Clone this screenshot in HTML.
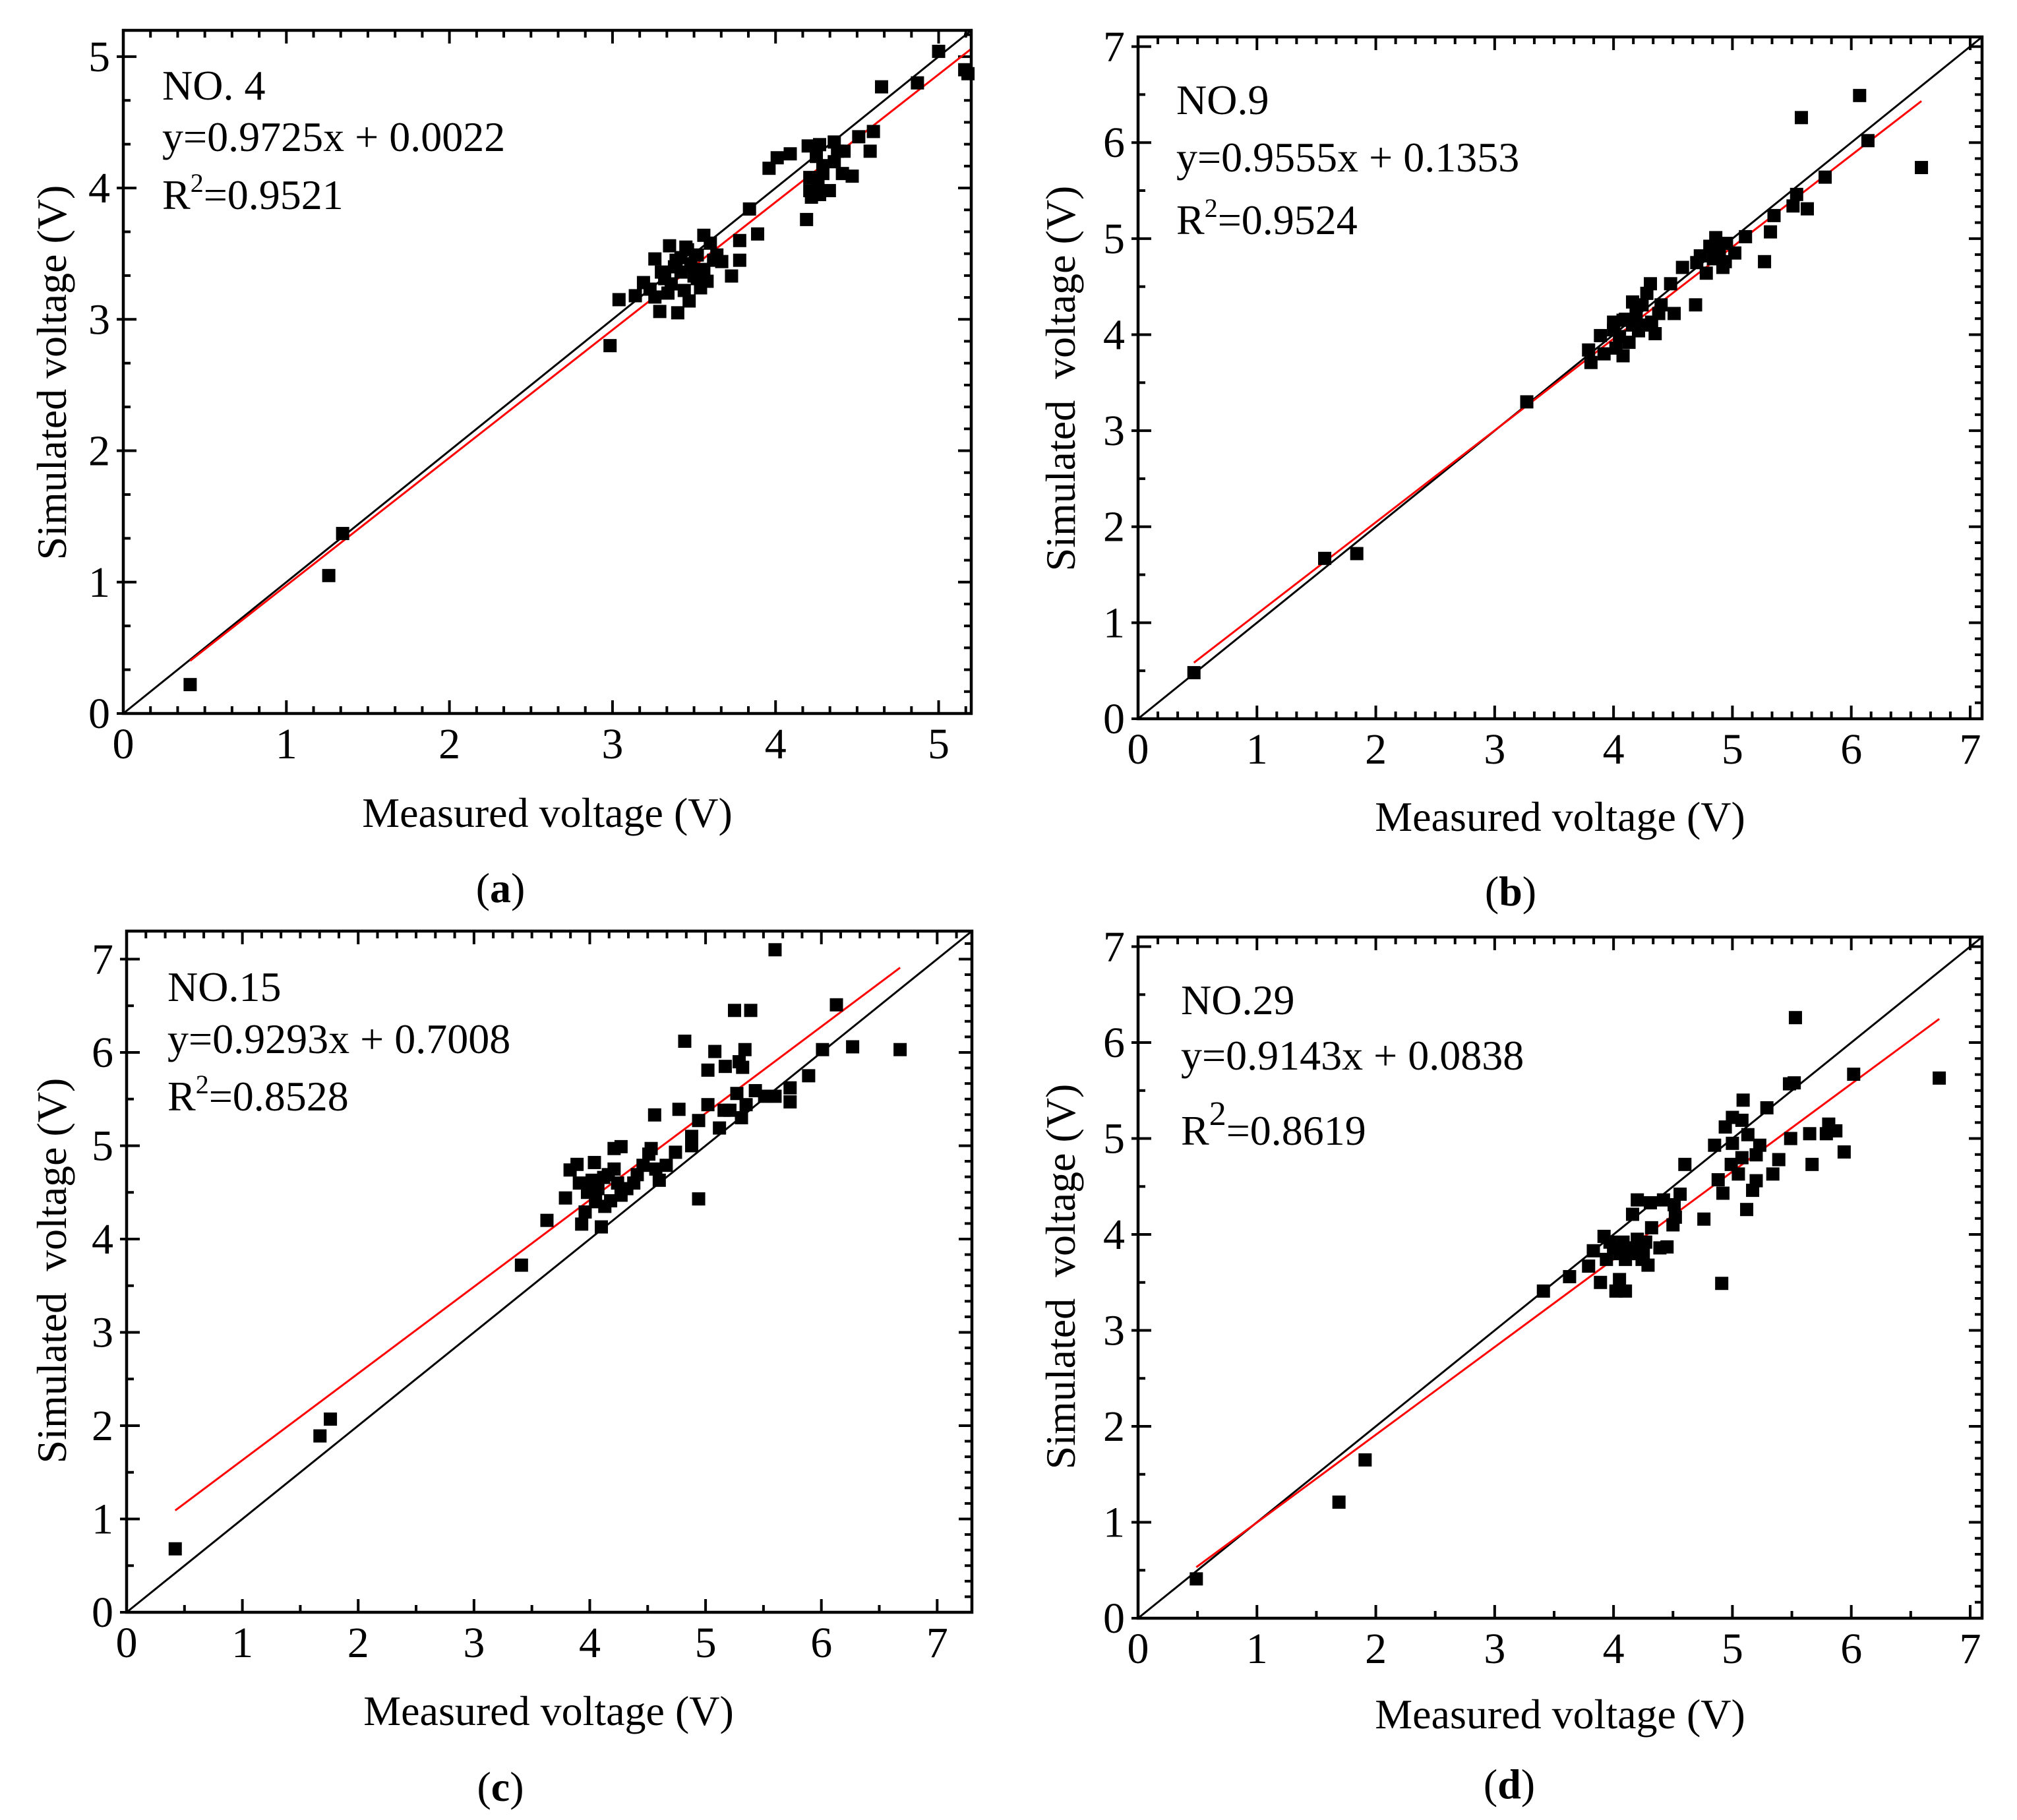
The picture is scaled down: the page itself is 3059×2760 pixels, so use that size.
<!DOCTYPE html>
<html><head><meta charset="utf-8"><style>
html,body{margin:0;padding:0;background:#fff;}
svg{display:block;}
svg text{font-family:"Liberation Serif","DejaVu Serif",serif;fill:#000;}
</style></head><body>
<svg id="fig" width="3059" height="2760" viewBox="0 0 3059 2760" xmlns="http://www.w3.org/2000/svg" font-family="Liberation Serif, DejaVu Serif, serif"></svg>
<script>
// ---- Data (a) NO. 4 ----
const measuredA = [0.41,1.26,1.345,2.985,3.04,3.14,3.19,3.26,3.29,3.40,3.35,3.47,3.56,3.60,3.84,3.89,3.78,3.78,3.73,3.67,3.54,
 3.23,3.26,3.32,3.38,3.42,3.48,3.52,3.46,3.42,3.36,3.50,3.56,3.58,3.62,3.64,3.44,3.34,3.30,3.45,3.52,3.39,
 3.96,4.01,4.09,4.19,4.20,4.27,4.21,4.22,4.26,4.33,4.27,4.21,4.29,4.36,4.38,4.36,4.42,4.47,4.41,4.25,4.29,4.51,4.60,4.58,4.65,4.87,5.00,5.16,5.18];
const simulatedA = [0.22,1.05,1.37,2.80,3.15,3.18,3.28,3.46,3.06,3.05,3.56,3.14,3.64,3.58,3.84,3.65,3.60,3.45,3.33,3.44,3.24,
 3.23,3.17,3.31,3.40,3.36,3.42,3.49,3.53,3.47,3.27,3.33,3.38,3.29,3.45,3.49,3.22,3.20,3.36,3.55,3.31,3.45,
 4.15,4.23,4.26,3.76,4.32,4.33,4.08,3.93,4.02,3.98,3.95,3.98,4.17,4.20,4.28,4.35,4.28,4.09,4.11,4.24,4.11,4.39,4.43,4.28,4.77,4.80,5.04,4.90,4.87];
// ---- Data (b) NO.9 ----
const measuredB = [0.47,1.57,1.84,3.27,3.79,3.81,3.92,3.89,4.00,4.08,4.13,4.16,4.19,4.24,4.31,4.28,4.35,4.38,4.40,4.05,4.10,4.02,4.21,4.16,4.27,4.32,4.51,4.48,
 4.58,4.69,4.73,4.78,4.81,4.86,4.89,4.92,4.94,4.84,5.02,5.11,4.70,4.95,4.00,4.08,5.27,5.32,5.35,5.51,5.54,5.63,5.58,5.78,6.07,6.14,6.59];
const simulatedB = [0.48,1.67,1.72,3.30,3.84,3.71,3.80,3.99,4.13,3.78,3.92,4.10,4.22,4.31,4.53,4.43,4.01,4.22,4.31,3.98,4.16,3.86,4.04,4.34,4.10,4.13,4.22,4.53,
 4.70,4.31,4.82,4.64,4.92,5.01,4.89,4.70,4.76,4.79,4.85,5.02,4.75,4.95,4.05,4.15,4.76,5.07,5.24,5.34,5.46,5.31,6.26,5.64,6.49,6.02,5.74];
// ---- Data (c) NO.15 ----
const measuredC = [0.42,1.67,1.76,3.41,3.63,3.79,3.83,3.89,3.91,3.93,3.96,4.04,4.10,4.07,4.16,4.18,4.24,4.13,4.02,4.21,4.27,4.32,4.38,4.41,4.46,4.21,4.27,3.98,4.05,4.12,
 4.56,4.51,4.53,4.57,4.60,4.66,4.74,4.77,4.82,4.88,4.88,4.94,4.94,5.02,5.02,5.08,5.12,5.16,5.17,5.21,5.25,5.27,5.29,5.32,5.31,5.34,5.35,5.39,5.43,5.51,5.60,5.60,5.73,5.73,5.89,6.01,6.13,6.27,6.68];
const simulatedC = [0.68,1.89,2.07,3.72,4.20,4.44,4.74,4.80,4.60,4.16,4.29,4.82,4.13,4.54,4.69,4.41,4.60,4.35,4.63,4.75,4.47,4.54,4.60,4.69,4.79,4.97,4.99,4.50,4.40,4.66,
 5.33,4.91,4.97,4.75,4.63,4.79,4.93,5.39,6.12,5.10,5.00,4.43,5.27,5.44,5.81,6.01,5.19,5.38,5.85,5.38,6.45,5.56,5.90,5.84,5.30,6.03,5.44,6.45,5.59,5.53,7.10,5.53,5.47,5.62,5.75,6.03,6.51,6.06,6.03];
// ---- Data (d) NO.29 ----
const measuredD = [0.49,1.69,1.91,3.41,3.63,3.79,3.83,3.92,3.89,4.02,4.10,4.05,3.94,4.00,4.08,4.13,4.19,4.24,4.27,4.29,4.10,3.97,4.20,4.05,4.25,
 4.20,4.16,4.31,4.32,4.39,4.45,4.42,4.56,4.51,4.50,4.52,4.60,4.76,4.85,4.88,4.92,4.91,4.94,5.00,5.00,4.99,5.05,5.08,5.09,5.08,5.13,5.12,5.17,5.20,5.23,5.20,5.29,5.34,5.39,5.48,5.52,5.49,5.53,5.65,5.67,5.79,5.81,5.87,5.94,6.02,6.74];
const simulatedD = [0.41,1.21,1.65,3.41,3.56,3.67,3.83,3.98,3.50,3.41,3.41,3.53,3.74,3.86,3.92,3.80,3.86,3.74,3.92,3.68,3.74,3.92,3.95,3.80,3.80,
 4.36,4.21,4.33,4.07,3.86,3.87,4.36,4.42,4.31,4.10,4.18,4.73,4.16,4.93,4.57,4.43,3.49,5.12,5.22,4.95,4.73,4.63,4.80,5.40,5.19,5.04,4.26,4.46,4.56,4.93,4.83,5.32,4.63,4.78,5.57,5.58,5.00,6.26,5.05,4.73,5.05,5.15,5.08,4.86,5.67,5.63];
// ---- Fits ----
const fitSlopes = [0.9725,0.9555,0.9293,0.9143];
const fitIntercepts = [0.0022,0.1353,0.7008,0.0838];
const fitStart = [0.41,0.47,0.42,0.49];
const fitEnd = [5.2,6.59,6.68,6.74];
const axisMax = [5.2,7.1,7.3,7.1];
const tickLabelsA = ["0","1","2","3","4","5"];
const tickLabels7 = ["0","1","2","3","4","5","6","7"];
const panelNames = ["NO. 4","NO.9","NO.15","NO.29"];
const equations = ["y=0.9725x + 0.0022","y=0.9555x + 0.1353","y=0.9293x + 0.7008","y=0.9143x + 0.0838"];
const r2Values = ["=0.9521","=0.9524","=0.8528","=0.8619"];
const panelLetters = ["a","b","c","d"];

const NS="http://www.w3.org/2000/svg";
const FONT="Liberation Serif, DejaVu Serif, serif";
const svg=document.getElementById('fig');
function mk(tag,attrs,parent){const e=document.createElementNS(NS,tag);for(const k in attrs)e.setAttribute(k,attrs[k]);if(tag==='text')e.setAttribute('font-family',FONT);(parent||svg).appendChild(e);return e;}

const layouts=[
 {L:187,R:1473,T:46,B:1082,xs:measuredA,ys:simulatedA,ticks:tickLabelsA,botMinor:6,leftMinor:3,
  ann:[246,151,229,317],ytx:78,yty:565,yTitle:"Simulated voltage (V)",xtx:830,xty:1254,plx:759,ply:1368},
 {L:1726,R:3006,T:56,B:1090,xs:measuredB,ys:simulatedB,ticks:tickLabels7,botMinor:6,leftMinor:2,
  ann:[1784,173,260,355],ytx:1608,yty:574,yTitle:"Simulated  voltage (V)",xtx:2366,xty:1260,plx:2291,ply:1373},
 {L:192,R:1474,T:1412,B:2445,xs:measuredC,ys:simulatedC,ticks:tickLabels7,botMinor:2,leftMinor:2,
  ann:[254,1518,1597,1684],ytx:78,yty:1927,yTitle:"Simulated  voltage (V)",xtx:832,xty:2616,plx:759,ply:2731},
 {L:1726,R:3006,T:1421,B:2454,xs:measuredD,ys:simulatedD,ticks:tickLabels7,botMinor:2,leftMinor:2,
  ann:[1791,1538,1622,1736],ytx:1608,yty:1936,yTitle:"Simulated  voltage (V)",xtx:2366,xty:2621,plx:2289,ply:2727}
];

layouts.forEach((p,i)=>{
  const max=axisMax[i];
  const g=mk('g',{});
  
  
  const sx=v=>p.L+(p.R-p.L)*v/max;
  const sy=v=>p.B-(p.B-p.T)*v/max;
  const tg=mk('g',{stroke:'#000','stroke-width':4},g);
  
  
  const nMaj=p.ticks.length;
  for(let k=0;k<nMaj;k++){
    const x=sx(k), y=sy(k);
    mk('line',{x1:x,y1:p.B,x2:x,y2:p.B-20},tg);
    mk('line',{x1:x,y1:p.T,x2:x,y2:p.T+20},tg);
    mk('line',{x1:p.L-10,y1:y,x2:p.L+20,y2:y},tg);
    mk('line',{x1:p.R,y1:y,x2:p.R-20,y2:y},tg);
  }
  const minor=(step,fn)=>{for(let v=step;v<max-1e-6;v+=step){if(Math.abs(v-Math.round(v))<1e-6)continue;fn(v);}};
  minor(1/p.botMinor,v=>mk('line',{x1:sx(v),y1:p.B,x2:sx(v),y2:p.B-11},tg));
  minor(1/6,v=>mk('line',{x1:sx(v),y1:p.T,x2:sx(v),y2:p.T+11},tg));
  minor(1/p.leftMinor,v=>mk('line',{x1:p.L,y1:sy(v),x2:p.L+11,y2:sy(v)},tg));
  minor(1/6,v=>mk('line',{x1:p.R,y1:sy(v),x2:p.R-11,y2:sy(v)},tg));
  p.ticks.forEach((lab,k)=>{
    const tx=mk('text',{x:sx(k),y:p.B+68,'font-size':66,'text-anchor':'middle'},g);
    tx.textContent=lab;
    
    
    const ty=mk('text',{x:p.L-20,y:sy(k)+22,'font-size':66,'text-anchor':'end'},g);
    ty.textContent=lab;
    
    
  });
  const id=mk('line',{x1:sx(0),y1:sy(0),x2:sx(max),y2:sy(max),stroke:'#000','stroke-width':3},g);
  
  
  const f=x=>fitSlopes[i]*x+fitIntercepts[i];
  const fl=mk('line',{x1:sx(fitStart[i]),y1:sy(f(fitStart[i])),x2:sx(fitEnd[i]),y2:sy(f(fitEnd[i])),stroke:'#ff0000','stroke-width':3},g);
  
  
  p.xs.forEach((xv,k)=>{
    const r=mk('rect',{x:sx(xv)-10,y:sy(p.ys[k])-10,width:20,height:20,fill:'#000'},g);
    
    
  });
  const fr=mk('rect',{x:p.L,y:p.T,width:p.R-p.L,height:p.B-p.T,fill:'none',stroke:'#000','stroke-width':4.5},g);
  
  
  const a1=mk('text',{x:p.ann[0],y:p.ann[1],'font-size':64},g);
  a1.textContent=panelNames[i];
  
  
  const a2=mk('text',{x:p.ann[0],y:p.ann[2],'font-size':64},g);
  a2.textContent=equations[i];
  
  
  const a3=mk('text',{x:p.ann[0],y:p.ann[3],'font-size':64},g);
  
  
  const t1=mk('tspan',{},a3);t1.textContent='R';
  const big=(i===3);
  const t2=mk('tspan',{dy:big?-30:-26,'font-size':big?52:40},a3);t2.textContent='2';
  const t3=mk('tspan',{dy:big?30:26},a3);t3.textContent=r2Values[i];
  const yt=mk('text',{x:0,y:0,'font-size':64,'text-anchor':'middle',transform:`translate(${p.ytx+22},${p.yty}) rotate(-90)`},g);
  yt.setAttribute('style','white-space:pre');
  yt.textContent=p.yTitle;
  
  
  const xt=mk('text',{x:p.xtx,y:p.xty,'font-size':64,'text-anchor':'middle'},g);
  xt.textContent='Measured voltage (V)';
  
  
  const pl=mk('text',{x:p.plx,y:p.ply,'font-size':64,'text-anchor':'middle'},g);
  
  
  const s1=mk('tspan',{},pl);s1.textContent='(';
  const s2=mk('tspan',{'font-weight':'bold'},pl);s2.textContent=panelLetters[i];
  const s3=mk('tspan',{},pl);s3.textContent=')';
});
</script>
</body></html>
